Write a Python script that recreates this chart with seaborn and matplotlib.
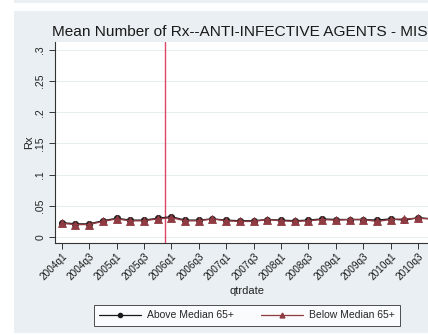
import matplotlib
matplotlib.use("Agg")
import matplotlib.pyplot as plt
import matplotlib.patches as mpatches
import seaborn as sns
import pandas as pd
import numpy as np

# Quarterly mean number of prescriptions, 2004q1 onward
quarters = [f"{y}q{q}" for y in range(2004, 2011) for q in range(1, 5)]
above_median = [0.023, 0.021, 0.021, 0.026, 0.030, 0.027, 0.027, 0.030,
                0.0325, 0.027, 0.027, 0.029, 0.027, 0.026, 0.026, 0.028,
                0.027, 0.026, 0.027, 0.029, 0.028, 0.028, 0.028, 0.027,
                0.029, 0.027, 0.031, 0.029]
below_median = [0.022, 0.020, 0.020, 0.025, 0.029, 0.026, 0.026, 0.029,
                0.031, 0.026, 0.026, 0.029, 0.026, 0.025, 0.025, 0.028,
                0.026, 0.025, 0.026, 0.028, 0.027, 0.028, 0.028, 0.025,
                0.028, 0.029, 0.030, 0.029]
series_names = ["Above Median 65+", "Below Median 65+"]
y_ticks = [0, 0.05, 0.1, 0.15, 0.2, 0.25, 0.3]
y_tick_labels = ["0", ".05", ".1", ".15", ".2", ".25", ".3"]
policy_quarter = 7.5  # between 2005q4 and 2006q1
title = "Mean Number of Rx--ANTI-INFECTIVE AGENTS - MIS"

n = len(quarters)
df = pd.DataFrame({
    "t": list(range(n)) * 2,
    "Rx": above_median + below_median,
    "group": [series_names[0]] * n + [series_names[1]] * n,
})

sns.set_theme(style="white")
plt.rcParams["font.family"] = ["Liberation Sans", "DejaVu Sans"]

W, H = 428, 335
fig = plt.figure(figsize=(W / 100, H / 100), dpi=100)
fig.patch.set_facecolor("white")

bg = "#e9eff2"
# graph region background
fig.patches.append(mpatches.Rectangle((14 / W, 2 / H), 1, 322 / H,
                                      transform=fig.transFigure,
                                      facecolor=bg, edgecolor="none", zorder=-10))
fig.patches.append(mpatches.Rectangle((14 / W, 1 - 3 / H), 1, 3 / H,
                                      transform=fig.transFigure,
                                      facecolor=bg, edgecolor="none", zorder=-10))

ax = fig.add_axes([55 / W, 92 / H, 385 / W, 201 / H])
ax.set_facecolor("white")

black = "#1a1a1a"
cranberry = "#903a42"
sns.lineplot(data=df, x="t", y="Rx", hue="group", style="group",
             hue_order=series_names, style_order=series_names,
             palette={series_names[0]: black, series_names[1]: cranberry},
             markers={series_names[0]: "o", series_names[1]: "^"},
             dashes=False, markersize=4.5, linewidth=1.0,
             markeredgewidth=0.6, ax=ax, legend=False)
for line, c, ms in zip(ax.lines, [black, cranberry], [4.5, 5.5]):
    line.set_markeredgecolor(c)
    line.set_markersize(ms)

ax.axvline(policy_quarter, color="#dc4468", lw=1.0, zorder=1)

ax.set_xlim(-0.49, 27.6)
ax.set_ylim(-0.0096, 0.3125)

ax.set_yticks(y_ticks)
ax.set_yticklabels(y_tick_labels, rotation=90, va="center", fontsize=7.5,
                   color="#222222")
ax.yaxis.grid(True, color="#e6eef0", lw=0.8)
ax.xaxis.grid(False)

xt = list(range(0, n - 1, 2))
ax.set_xticks(xt)
ax.set_xticklabels([quarters[i] for i in xt], rotation=45, ha="right",
                   rotation_mode="anchor", fontsize=7.2, color="#1a1a1a")

ax.tick_params(axis="both", direction="out", length=4, width=0.7,
               color="#333333", pad=2, left=True, bottom=True)
ax.tick_params(axis="y", pad=3)

for s in ["top", "right"]:
    ax.spines[s].set_visible(False)
for s in ["left", "bottom"]:
    ax.spines[s].set_color("#333333")
    ax.spines[s].set_linewidth(0.8)

ax.set_xlabel("qtrdate", fontsize=8, color="#222222", labelpad=3)
ax.set_ylabel("Rx", fontsize=8, color="#222222", labelpad=1)

fig.text(52 / W, 1 - 32 / H, title, ha="left", va="center",
         fontsize=11.1, color="#1a1a1a")

handles = [
    plt.Line2D([], [], color=black, marker="o", markersize=3, lw=0.9),
    plt.Line2D([], [], color=cranberry, marker="^", markersize=3.5, lw=0.9),
]
leg = fig.legend(handles, series_names, loc="center",
                 bbox_to_anchor=(247 / W, 1 - 315.5 / H), ncol=2,
                 fontsize=7.5, frameon=True, fancybox=False,
                 handlelength=4.0, columnspacing=2.6, handletextpad=0.6,
                 borderpad=0.5)
leg.get_frame().set_edgecolor("#222222")
leg.get_frame().set_linewidth(0.7)
leg.get_frame().set_facecolor("white")

fig.savefig("out.png", dpi=100, facecolor=fig.get_facecolor())
